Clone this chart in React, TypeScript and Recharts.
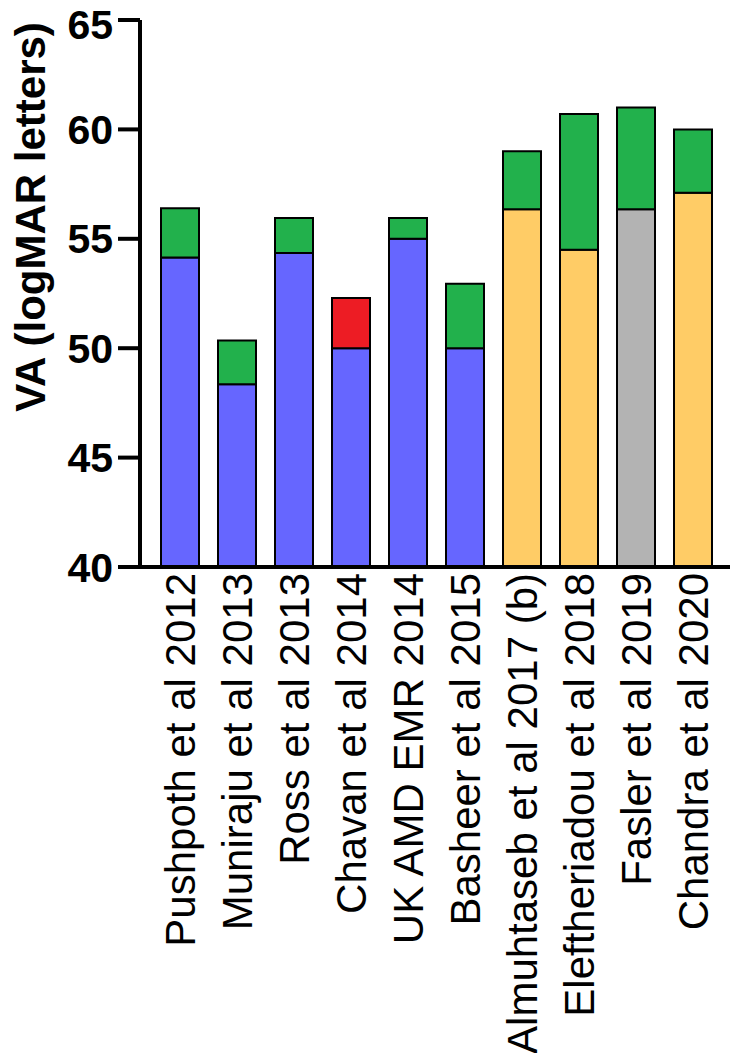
import { BarChart, Bar, XAxis, YAxis, Cell } from "recharts"

// VA at baseline and at final visit, per study (logMAR letters)
const studies = [
  "Pushpoth et al 2012",
  "Muniraju et al 2013",
  "Ross et al 2013",
  "Chavan et al 2014",
  "UK AMD EMR 2014",
  "Basheer et al 2015",
  "Almuhtaseb et al 2017 (b)",
  "Eleftheriadou et al 2018",
  "Fasler et al 2019",
  "Chandra et al 2020",
]
const baselineVA = [54.15, 48.35, 54.35, 50.0, 55.0, 50.0, 56.35, 54.5, 56.35, 57.1]
const finalVA = [56.4, 50.35, 55.95, 52.3, 55.95, 52.95, 59.0, 60.7, 61.0, 60.0]
const yTicks = [40, 45, 50, 55, 60, 65]

// colours
const baseColors = [
  "#6666FF", "#6666FF", "#6666FF", "#6666FF", "#6666FF", "#6666FF",
  "#FFCC66", "#FFCC66", "#B3B3B3", "#FFCC66",
]
const changeColors = [
  "#22B14C", "#22B14C", "#22B14C", "#ED1C24", "#22B14C", "#22B14C",
  "#22B14C", "#22B14C", "#22B14C", "#22B14C",
]

const data = studies.map((name, i) => ({
  name,
  baseline: baselineVA[i],
  change: +(finalVA[i] - baselineVA[i]).toFixed(2),
}))

const FONT = "'Liberation Sans', Arial, sans-serif"

function StudyTick({ x, y, payload }: any) {
  return (
    <text
      x={x}
      y={y}
      dx={-6}
      dy={15}
      transform={`rotate(-90, ${x}, ${y})`}
      textAnchor="end"
      fontSize={42}
      fontFamily={FONT}
      fill="#000"
    >
      {payload.value}
    </text>
  )
}

export default function App() {
  return (
    <div style={{ position: "absolute", left: 0, top: 0, width: 735, height: 1053, background: "#fff" }}>
      <BarChart
        width={735}
        height={1053}
        data={data}
        margin={{ top: 20, right: 5, left: 0, bottom: 0 }}
      >
        <XAxis
          dataKey="name"
          interval={0}
          height={486}
          tickLine={false}
          tickSize={0}
          tickMargin={0}
          padding={{ left: 11, right: 9 }}
          axisLine={{ stroke: "#000", strokeWidth: 4 }}
          tick={<StudyTick />}
        />
        <YAxis
          width={140}
          domain={[40, 65]}
          ticks={yTicks}
          allowDataOverflow
          tickSize={22}
          tickMargin={5}
          axisLine={{ stroke: "#000", strokeWidth: 4 }}
          tickLine={{ stroke: "#000", strokeWidth: 4 }}
          tick={{ fontSize: 41, fontWeight: "bold", fill: "#000", fontFamily: FONT }}
        />
        <Bar dataKey="baseline" stackId="va" barSize={38} stroke="#000" strokeWidth={2} isAnimationActive={false}>
          {data.map((d, i) => (
            <Cell key={d.name} fill={baseColors[i]} />
          ))}
        </Bar>
        <Bar dataKey="change" stackId="va" barSize={38} stroke="#000" strokeWidth={2} isAnimationActive={false}>
          {data.map((d, i) => (
            <Cell key={d.name} fill={changeColors[i]} />
          ))}
        </Bar>
      </BarChart>

      {/* y-axis title */}
      <svg width={70} height={450} style={{ position: "absolute", left: 0, top: 0 }}>
        <text
          x={45}
          y={217}
          transform="rotate(-90, 45, 217)"
          textAnchor="middle"
          fontSize={42}
          fontWeight="bold"
          fontFamily={FONT}
          fill="#000"
        >
          VA (logMAR letters)
        </text>
      </svg>
    </div>
  )
}
